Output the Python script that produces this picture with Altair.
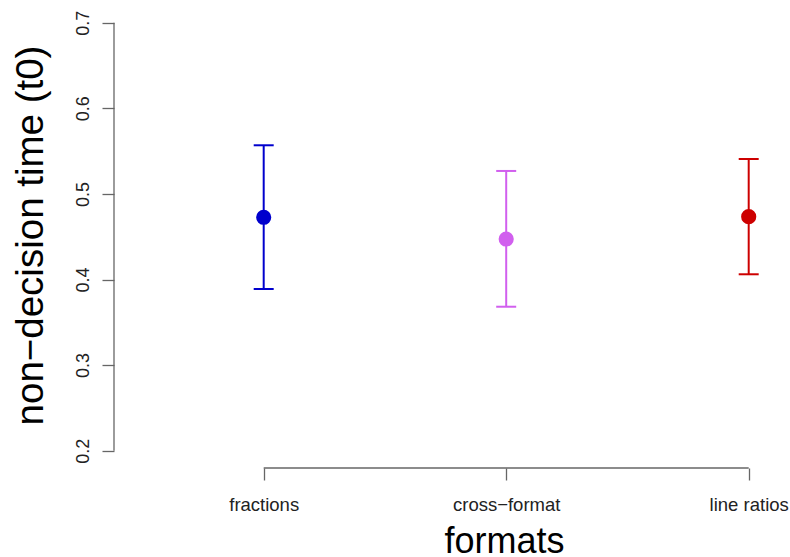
import altair as alt
import pandas as pd

# Posterior estimates of the non-decision time per presentation format
formats = ["fractions", "cross\u2212format", "line ratios"]
positions = [1, 2, 3]
means = [0.4727, 0.4473, 0.4734]
lower = [0.3889, 0.3682, 0.4061]
upper = [0.5568, 0.5268, 0.5408]
colors = ["#0000CD", "#D15FEE", "#CD0000"]
y_ticks = [0.2, 0.3, 0.4, 0.5, 0.6, 0.7]

FONT = "Liberation Sans"
AXIS_GREY = "#666666"

df = pd.DataFrame({
    "format": formats,
    "pos": positions,
    "mean": means,
    "lo": lower,
    "hi": upper,
})

x_scale = alt.Scale(domain=[0.3827, 3.1703], nice=False, zero=False)
y_scale = alt.Scale(domain=[0.1798, 0.7195], nice=False, zero=False)
color_scale = alt.Scale(domain=formats, range=colors)

label_expr = "[" + ",".join("'" + f + "'" for f in formats) + "][datum.value - 1]"

x_axis = alt.Axis(
    values=positions, labelExpr=label_expr, domain=False, grid=False,
    tickSize=12, tickColor=AXIS_GREY, tickWidth=1.3,
    labelFont=FONT, labelFontSize=18.5, labelColor="#222222",
    labelBaseline="alphabetic", labelPadding=30,
    title="formats", titleFont=FONT, titleFontSize=36, titleFontWeight="normal",
    titleColor="#000000", titleX=390, titleY=84, titleAlign="center",
    titleBaseline="alphabetic",
)
y_axis = alt.Axis(
    values=y_ticks, format=".1f", domain=False, grid=False,
    tickSize=12, tickColor=AXIS_GREY, tickWidth=1.3,
    labelFont=FONT, labelFontSize=18, labelColor="#222222",
    labelAngle=270, labelAlign="center", labelBaseline="alphabetic", labelPadding=14,
    title="non\u2212decision time (t0)", titleFont=FONT, titleFontSize=38.5,
    titleFontWeight="normal", titleColor="#000000", titleAngle=270,
    titleX=-72, titleY=229, titleAlign="center", titleBaseline="alphabetic",
)


def xq(field):
    return alt.X(field, scale=x_scale, axis=x_axis)


def yq(field):
    return alt.Y(field, scale=y_scale, axis=y_axis)


col = alt.Color("format:N", scale=color_scale, legend=None)
base = alt.Chart(df)

# Vertical interval lines
bars = base.mark_rule(strokeWidth=2).encode(
    x=xq("pos:Q"), y=yq("lo:Q"), y2="hi:Q", color=col,
)

# Caps at the interval ends
cap_lo = base.mark_rule(strokeWidth=2, xOffset=-10, x2Offset=10).encode(
    x=xq("pos:Q"), x2="pos:Q", y=yq("lo:Q"), color=col,
)
cap_hi = base.mark_rule(strokeWidth=2, xOffset=-10, x2Offset=10).encode(
    x=xq("pos:Q"), x2="pos:Q", y=yq("hi:Q"), color=col,
)

# Mean points
points = base.mark_circle(size=230, opacity=1).encode(
    x=xq("pos:Q"), y=yq("mean:Q"), color=col,
)

# Axis lines spanning only the tick range
y_line = alt.Chart(pd.DataFrame({"a": [y_ticks[0]], "b": [y_ticks[-1]]})).mark_rule(
    color=AXIS_GREY, strokeWidth=1.3
).encode(
    x=alt.value(0), y=yq("a:Q"), y2="b:Q",
)
x_line = alt.Chart(pd.DataFrame({"a": [positions[0]], "b": [positions[-1]]})).mark_rule(
    color=AXIS_GREY, strokeWidth=1.3
).encode(
    x=xq("a:Q"), x2="b:Q", y=alt.value(462),
)

chart = alt.layer(bars, cap_lo, cap_hi, points, y_line, x_line).properties(
    width=676,
    height=462,
    autosize="none",
    padding={"left": 114, "top": 6, "right": 0, "bottom": 89},
).configure_view(stroke=None)

chart.save("out.html", embed_options={"renderer": "svg", "actions": False})
